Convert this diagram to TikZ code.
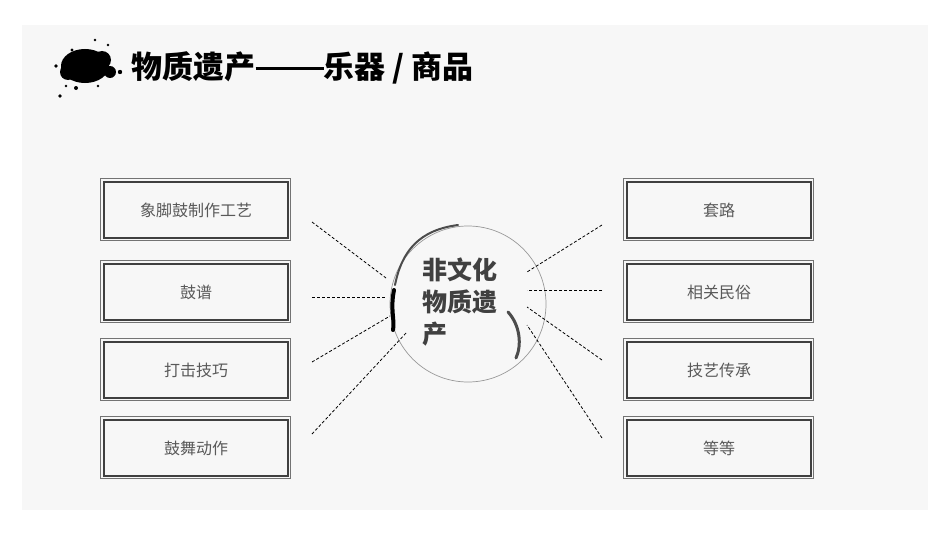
\documentclass[tikz,border=0pt]{standalone}
\usepackage{fontspec}
\setmainfont{Noto Sans CJK SC}
\usetikzlibrary{positioning}

\tikzset{
  item/.style={draw=black!75, line width=1.2pt, minimum width=184pt, minimum height=56pt,
    text=black!65, font=\fontsize{16}{19}\selectfont},
  sketch/.style={draw=black!55, line width=0.6pt},
  link/.style={dashed, dash pattern=on 3pt off 2pt, line width=0.8pt}
}

\begin{document}
\begin{tikzpicture}[x=1pt, y=-1pt]
\useasboundingbox (0,0) rectangle (950,535);
\fill[white] (0,0) rectangle (950,535);
\fill[black!3] (22,25) rectangle (928,510);

% ink splash and title
\fill[black] (85,66) ellipse (24 and 17);
\fill[black] (102,60) circle (9);
\fill[black] (68,72) circle (8);
\fill[black] (110,72) circle (6);
\foreach \px/\py/\pr in {56/66/1.8, 60/96/1.8, 95/40/1.4, 108/45/1.4, 120/72/2.2, 76/88/2, 72/50/1.6, 66/86/1.4, 98/86/1.3}
  \fill[black] (\px,\py) circle (\pr);
\node[anchor=west, font=\fontsize{31}{36}\selectfont\bfseries] (title) at (128,68) {物质遗产\rule[9pt]{68pt}{3pt}乐器 / 商品};

% centre
\node[circle, draw=black!40, line width=0.7pt, minimum size=156pt] (core) at (468,304) {};
\node[align=left, anchor=north west, text=black!75, font=\fontsize{25}{32}\selectfont\bfseries] (coretxt) at (419,254) {非文化\\物质遗\\产};
\draw[black!70, line width=2pt, line cap=round] (458,225) .. controls (420,230) and (402,250) .. (395,285);
\draw[black, line width=4pt, line cap=round] (394,290) .. controls (390,310) and (395,320) .. (393,330);
\draw[black!70, line width=3pt, line cap=round] (508,312) .. controls (520,325) and (522,345) .. (516,358);

% items
\foreach \nm/\txt/\yy in {la/象脚鼓制作工艺/210, lb/鼓谱/292, lc/打击技巧/370, ld/鼓舞动作/448,
                         ra/套路/210, rb/相关民俗/292, rc/技艺传承/370, rd/等等/448}{
  \ifnum\pdfstrcmp{\nm}{m}>0 \def\xx{719}\else\def\xx{196}\fi
  \node[item] (\nm) at (\xx,\yy) {\txt};
  \draw[sketch] ([shift={(-3pt,3pt)}]\nm.north west) rectangle ([shift={(2pt,-2pt)}]\nm.south east);
}

% connectors
\coordinate (pa) at (312,222); \coordinate (pb) at (312,297);
\coordinate (pc) at (312,362); \coordinate (pd) at (312,434);
\coordinate (qa) at (602,225); \coordinate (qb) at (602,290);
\coordinate (qc) at (602,360); \coordinate (qd) at (602,438);
\draw[link] (pa) -- (386,278);
\draw[link] (pb) -- (386,297);
\draw[link] (pc) -- (390,316);
\draw[link] (pd) -- (407,332);
\draw[link] (qa) -- (527,272);
\draw[link] (qb) -- (527,290);
\draw[link] (qc) -- (527,307);
\draw[link] (qd) -- (527,325);
\end{tikzpicture}
\end{document}
